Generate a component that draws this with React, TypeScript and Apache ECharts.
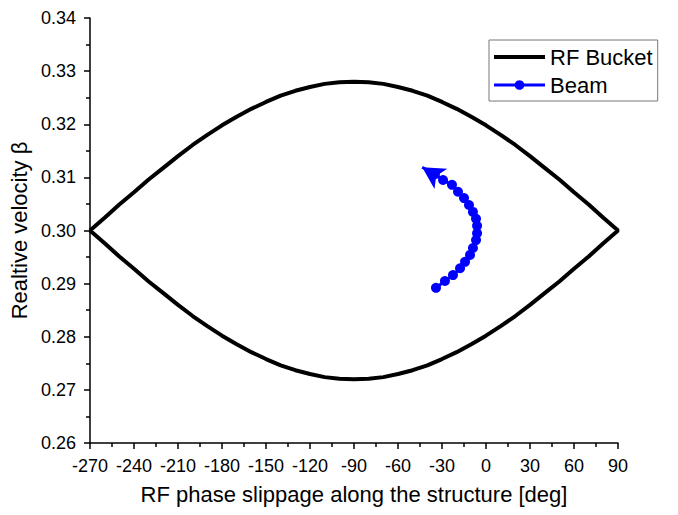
import React, { useEffect, useRef } from "react";
import * as echarts from "echarts";

// RF bucket separatrix, phase in degrees
const bucketPhase = [
  -270, -260, -250, -240, -230, -220, -210, -200, -190, -180, -170, -160, -150,
  -140, -130, -120, -110, -100, -90, -80, -70, -60, -50, -40, -30, -20, -10, 0,
  10, 20, 30, 40, 50, 60, 70, 80, 90,
];
const bucketUpper = [
  0.3, 0.3024, 0.3049, 0.3072, 0.3096, 0.3118, 0.314, 0.3161, 0.318, 0.3198,
  0.3214, 0.3229, 0.3242, 0.3254, 0.3263, 0.327, 0.3276, 0.3279, 0.328, 0.3279,
  0.3276, 0.327, 0.3263, 0.3254, 0.3242, 0.3229, 0.3214, 0.3198, 0.318, 0.3161,
  0.314, 0.3118, 0.3096, 0.3072, 0.3049, 0.3024, 0.3,
];
const bucketLower = [
  0.3, 0.2976, 0.2951, 0.2928, 0.2904, 0.2882, 0.286, 0.2839, 0.282, 0.2802,
  0.2786, 0.2771, 0.2758, 0.2746, 0.2737, 0.273, 0.2724, 0.2721, 0.272, 0.2721,
  0.2724, 0.273, 0.2737, 0.2746, 0.2758, 0.2771, 0.2786, 0.2802, 0.282, 0.2839,
  0.286, 0.2882, 0.2904, 0.2928, 0.2951, 0.2976, 0.3,
];

// Beam trajectory
const beamPhase = [
  -34.1, -28.0, -22.5, -17.7, -14.3, -10.9, -8.9, -6.8, -6.1, -6.1, -6.8, -8.9,
  -11.6, -15.0, -19.1, -23.2, -29.3, -34.8, -43.5,
];
const beamBeta = [
  0.2892, 0.2905, 0.2916, 0.2929, 0.2941, 0.2954, 0.2967, 0.2982, 0.2995,
  0.3009, 0.3022, 0.3035, 0.3048, 0.3061, 0.3073, 0.3086, 0.3095, 0.3106,
  0.3119,
];

const FONT = "'Liberation Sans', Arial, sans-serif";

export default function App() {
  const ref = useRef<HTMLDivElement>(null);

  useEffect(() => {
    document.body.style.margin = "0";
    if (!ref.current) return;
    const chart = echarts.init(ref.current, null, { renderer: "svg" });

    const bucketData: number[][] = [];
    bucketPhase.forEach((p, i) => bucketData.push([p, bucketUpper[i]]));
    for (let i = bucketPhase.length - 1; i >= 0; i--) {
      bucketData.push([bucketPhase[i], bucketLower[i]]);
    }

    const beamData: any[] = beamPhase.map((p, i) => [p, beamBeta[i]]);
    const last = beamData.length - 1;
    beamData[last] = {
      value: beamData[last],
      symbol: "arrow",
      symbolSize: [18, 22],
      symbolRotate: 58,
    };

    const axisLineStyle = { color: "#000", width: 1.5 };

    chart.setOption({
      animation: false,
      backgroundColor: "#fff",
      textStyle: { fontFamily: FONT },
      grid: { left: 90, right: 60, top: 18, bottom: 72 },
      legend: {
        orient: "vertical",
        left: 489,
        top: 40,
        padding: [6, 5, 5, 3],
        itemGap: 6,
        itemWidth: 51,
        itemHeight: 12,
        borderColor: "#777",
        borderWidth: 1,
        textStyle: { fontSize: 22, color: "#000", fontFamily: FONT },
        data: [
          {
            name: "RF Bucket",
            itemStyle: { opacity: 0 },
            lineStyle: { width: 4, color: "#000" },
          },
          {
            name: "Beam",
            lineStyle: { width: 3, color: "#0000ff" },
          },
        ],
      },
      xAxis: {
        type: "value",
        min: -270,
        max: 90,
        interval: 30,
        name: "RF phase slippage along the structure [deg]",
        nameLocation: "middle",
        nameGap: 40,
        nameTextStyle: { fontSize: 22, color: "#000", fontFamily: FONT },
        axisLine: { show: true, onZero: false, lineStyle: axisLineStyle },
        axisTick: { show: true, inside: false, length: 6, lineStyle: axisLineStyle },
        minorTick: { show: true, splitNumber: 2, length: 4, lineStyle: { color: "#000", width: 1.5 } },
        splitLine: { show: false },
        minorSplitLine: { show: false },
        axisLabel: { fontSize: 18, color: "#000", margin: 14, fontFamily: FONT },
      },
      yAxis: {
        type: "value",
        min: 0.26,
        max: 0.34,
        interval: 0.01,
        name: "Realtive velocity β",
        nameLocation: "middle",
        nameGap: 55,
        nameTextStyle: { fontSize: 22, color: "#000", fontFamily: FONT },
        axisLine: { show: true, onZero: false, lineStyle: axisLineStyle },
        axisTick: { show: true, inside: false, length: 6, lineStyle: axisLineStyle },
        minorTick: { show: true, splitNumber: 2, length: 4, lineStyle: { color: "#000", width: 1.5 } },
        splitLine: { show: false },
        minorSplitLine: { show: false },
        axisLabel: {
          fontSize: 18,
          color: "#000",
          margin: 14,
          fontFamily: FONT,
          formatter: (v: number) => v.toFixed(2),
        },
      },
      series: [
        {
          name: "RF Bucket",
          type: "line",
          data: bucketData,
          symbol: "none",
          lineStyle: { color: "#000", width: 4 },
          itemStyle: { color: "#000" },
        },
        {
          name: "Beam",
          type: "line",
          data: beamData,
          symbol: "circle",
          symbolSize: 10,
          showAllSymbol: true,
          lineStyle: { color: "#0000ff", width: 3 },
          itemStyle: { color: "#0000ff" },
        },
      ],
    });

    return () => chart.dispose();
  }, []);

  return <div ref={ref} style={{ width: 678, height: 515 }} />;
}
